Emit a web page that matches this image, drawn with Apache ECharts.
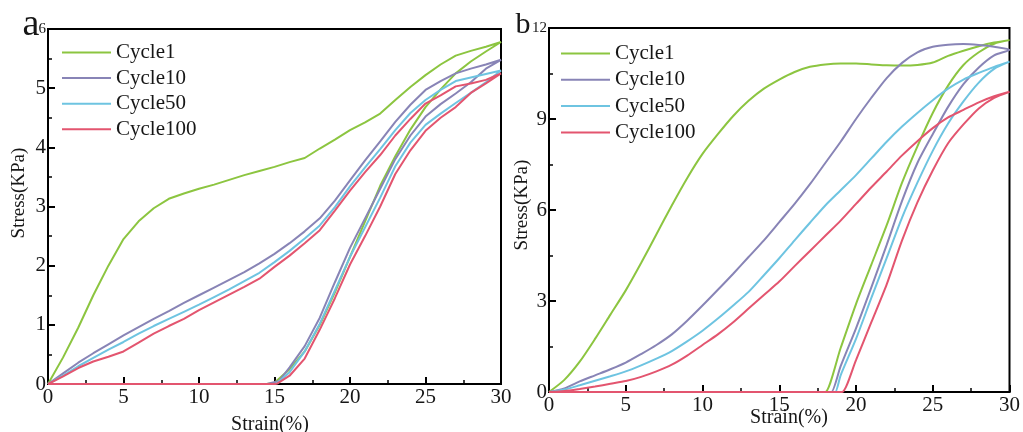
<!DOCTYPE html>
<html>
<head>
<meta charset="utf-8">
<script src="https://cdn.jsdelivr.net/npm/echarts@6/dist/echarts.min.js"></script>
<style>
  html, body { margin: 0; padding: 0; background: #ffffff; }
  #chart { width: 1023px; height: 432px; }
</style>
</head>
<body>
<div id="chart"></div>
<script>
// Stress–strain hysteresis loops, [strain %, stress KPa].
// Each loop: loading branch up to 30 %, unloading branch back to zero stress.

const cycleNames = ['Cycle1', 'Cycle10', 'Cycle50', 'Cycle100'];
const xTicks = [0, 5, 10, 15, 20, 25, 30];

// ---- panel a ----
const a1Load = [[0,0],[1,0.45],[2,0.95],[3,1.5],[4,2.0],[5,2.45],[6,2.75],[7,2.97],[8,3.13],[9,3.22],[10,3.3],[11,3.37],[12,3.45],[13,3.53],[14,3.6],[15,3.67],[16,3.75],[17,3.82],[18,3.98],[19,4.13],[20,4.29],[21,4.42],[22,4.57],[23,4.8],[24,5.02],[25,5.22],[26,5.4],[27,5.55],[28,5.63],[29,5.7],[30,5.78]];
const a1Unload = [[30,5.78],[29,5.62],[28,5.45],[27,5.25],[26,4.98],[25,4.68],[24,4.3],[23,3.85],[22,3.35],[21,2.75],[20,2.15],[19,1.55],[18,1.0],[17,0.55],[16,0.25],[15,0.02],[14.5,0],[0,0]];

const a10Load = [[0,0],[1,0.18],[2,0.36],[3,0.52],[4,0.67],[5,0.82],[6,0.96],[7,1.1],[8,1.23],[9,1.37],[10,1.5],[11,1.63],[12,1.76],[13,1.89],[14,2.04],[15,2.2],[16,2.38],[17,2.58],[18,2.8],[19,3.1],[20,3.44],[21,3.78],[22,4.1],[23,4.43],[24,4.72],[25,4.97],[26,5.12],[27,5.25],[28,5.33],[29,5.4],[30,5.48]];
const a10Unload = [[30,5.48],[29,5.33],[28,5.1],[27,4.91],[26,4.73],[25,4.52],[24,4.2],[23,3.8],[22,3.3],[21,2.8],[20,2.3],[19,1.72],[18,1.12],[17,0.64],[16,0.28],[15.3,0.05],[14.5,0],[0,0]];

const a50Load = [[0,0],[1,0.14],[2,0.3],[3,0.44],[4,0.58],[5,0.71],[6,0.85],[7,0.98],[8,1.1],[9,1.22],[10,1.34],[11,1.47],[12,1.6],[13,1.74],[14,1.88],[15,2.06],[16,2.25],[17,2.46],[18,2.68],[19,2.99],[20,3.34],[21,3.66],[22,3.97],[23,4.29],[24,4.58],[25,4.8],[26,4.97],[27,5.12],[28,5.18],[29,5.24],[30,5.3]];
const a50Unload = [[30,5.3],[29,5.1],[28,4.92],[27,4.75],[26,4.57],[25,4.38],[24,4.08],[23,3.68],[22,3.15],[21,2.65],[20,2.15],[19,1.58],[18,1.02],[17,0.55],[16,0.2],[15.2,0.02],[15,0],[0,0]];

const a100Load = [[0,0],[1,0.13],[2,0.27],[3,0.38],[4,0.46],[5,0.55],[6,0.7],[7,0.85],[8,0.98],[9,1.1],[10,1.25],[11,1.38],[12,1.51],[13,1.64],[14,1.78],[15,1.98],[16,2.17],[17,2.38],[18,2.6],[19,2.93],[20,3.27],[21,3.58],[22,3.87],[23,4.2],[24,4.48],[25,4.74],[26,4.88],[27,5.03],[28,5.08],[29,5.14],[30,5.25]];
const a100Unload = [[30,5.25],[29,5.08],[28,4.92],[27,4.68],[26,4.5],[25,4.28],[24,3.95],[23,3.55],[22,3.0],[21,2.5],[20,2.02],[19,1.45],[18,0.92],[17,0.43],[16,0.14],[15.2,0.01],[15,0],[0,0]];

const aStressTicks = [0, 1, 2, 3, 4, 5, 6];

// ---- panel b ----
const b1Load = [[0,0],[1,0.4],[2,1.0],[3,1.75],[4,2.55],[5,3.35],[6,4.25],[7,5.2],[8,6.15],[9,7.05],[10,7.85],[11,8.5],[12,9.1],[13,9.6],[14,10.0],[15,10.3],[16,10.55],[17,10.72],[18,10.8],[19,10.83],[20,10.83],[21,10.8],[22,10.77],[23,10.76],[24,10.78],[25,10.86],[26,11.08],[27,11.25],[28,11.4],[29,11.52],[30,11.6]];
const b1Unload = [[30,11.6],[29,11.48],[28,11.2],[27,10.78],[26,10.1],[25,9.2],[24,8.1],[23,6.9],[22,5.5],[21,4.2],[20,2.9],[19,1.45],[18,0],[17.9,0],[0,0]];

const b10Load = [[0,0],[1,0.12],[2,0.35],[3,0.55],[4,0.75],[5,0.97],[6,1.25],[7,1.55],[8,1.9],[9,2.35],[10,2.85],[11,3.37],[12,3.9],[13,4.45],[14,5.0],[15,5.6],[16,6.2],[17,6.85],[18,7.55],[19,8.25],[20,9.0],[21,9.7],[22,10.35],[23,10.85],[24,11.2],[25,11.38],[26,11.45],[27,11.47],[28,11.44],[29,11.38],[30,11.28]];
const b10Unload = [[30,11.28],[29,11.1],[28,10.7],[27,10.15],[26,9.4],[25,8.5],[24,7.55],[23,6.3],[22,4.85],[21,3.45],[20,2.1],[19,0.85],[18.4,0],[18.3,0],[0,0]];

const b50Load = [[0,0],[1,0.08],[2,0.22],[3,0.37],[4,0.52],[5,0.68],[6,0.88],[7,1.1],[8,1.35],[9,1.67],[10,2.02],[11,2.42],[12,2.85],[13,3.3],[14,3.85],[15,4.41],[16,5.0],[17,5.58],[18,6.15],[19,6.65],[20,7.15],[21,7.7],[22,8.25],[23,8.75],[24,9.2],[25,9.62],[26,10.0],[27,10.3],[28,10.52],[29,10.72],[30,10.89]];
const b50Unload = [[30,10.89],[29,10.65],[28,10.2],[27,9.58],[26,8.85],[25,7.95],[24,6.9],[23,5.75],[22,4.42],[21,3.1],[20,1.75],[19,0.55],[18.65,0],[18.55,0],[0,0]];

const b100Load = [[0,0],[1,0.03],[2,0.1],[3,0.18],[4,0.27],[5,0.36],[6,0.5],[7,0.68],[8,0.9],[9,1.2],[10,1.55],[11,1.9],[12,2.3],[13,2.75],[14,3.2],[15,3.64],[16,4.15],[17,4.65],[18,5.15],[19,5.65],[20,6.2],[21,6.75],[22,7.27],[23,7.8],[24,8.27],[25,8.7],[26,9.05],[27,9.3],[28,9.55],[29,9.75],[30,9.9]];
const b100Unload = [[30,9.9],[29,9.7],[28,9.35],[27,8.82],[26,8.2],[25,7.3],[24,6.25],[23,5.0],[22,3.55],[21,2.3],[20,1.05],[19.1,0],[19.0,0],[0,0]];

const bStressTicks = [0, 3, 6, 9, 12];

// ---- styling ----
const FONT = '"Liberation Serif", "Times New Roman", serif';
const INK = '#161616';
const COLORS = ['#8cc540', '#8884b6', '#6ec4e1', '#e3556f'];

const loop = (load, unload) => load.concat(unload.slice(1));

const aLoops = [loop(a1Load, a1Unload), loop(a10Load, a10Unload), loop(a50Load, a50Unload), loop(a100Load, a100Unload)];
const bLoops = [loop(b1Load, b1Unload), loop(b10Load, b10Unload), loop(b50Load, b50Unload), loop(b100Load, b100Unload)];

const FULL_STYLE = { border: true, legendText: true, labelColor: true, graphicFont: true, seriesColor: true };

function buildOption(f) {
  const tick = { show: true, inside: true, length: 7, lineStyle: { color: '#000', width: 2 } };
  const minor = { show: true, splitNumber: 2, length: 4, lineStyle: { color: '#000', width: 1.5 } };
  const line = { show: true, onZero: false, lineStyle: { color: '#000', width: 2 } };
  const labelBase = f.labelColor ? { color: INK } : {};

  const xa = g => ({
    type: 'value', gridIndex: g,
    min: xTicks[0], max: xTicks[xTicks.length - 1], interval: xTicks[1] - xTicks[0],
    axisLine: line, axisTick: tick, minorTick: minor, splitLine: { show: false },
    axisLabel: Object.assign({ fontFamily: FONT, fontSize: 21, margin: 3 }, labelBase)
  });
  const ya = (g, ticks) => {
    const max = ticks[ticks.length - 1];
    return {
      type: 'value', gridIndex: g,
      min: ticks[0], max, interval: ticks[1] - ticks[0],
      axisLine: line, axisTick: tick, minorTick: minor, splitLine: { show: false },
      axisLabel: Object.assign({
        fontFamily: FONT, fontSize: 21, margin: 2,
        // the top value is printed smaller, tucked under the panel letter
        formatter: v => (v === max ? '{s|' + v + '}' : String(v)),
        rich: { s: Object.assign({ fontSize: 15, fontFamily: FONT }, labelBase) }
      }, labelBase)
    };
  };
  // plain top / right edges closing each plot frame
  const edge = (g, position, max) => ({
    type: 'value', gridIndex: g, position, min: 0, max,
    axisLine: line, axisTick: { show: false }, minorTick: { show: false },
    axisLabel: { show: false }, splitLine: { show: false }
  });
  const lg = (left, top, gap) => {
    const l = {
      orient: 'vertical', left, top, padding: 0,
      icon: 'rect', itemWidth: 49, itemHeight: 2, itemGap: gap,
      data: cycleNames
    };
    if (f.legendText) l.textStyle = { color: INK, fontFamily: FONT, fontSize: 21, lineHeight: 21 };
    else l.textStyle = { fontFamily: FONT, fontSize: 21 };
    return l;
  };
  const txt = (text, x, y, size, rotation) => {
    const style = { text, fontSize: size, align: 'center', verticalAlign: 'middle' };
    if (f.graphicFont) { style.fontFamily = FONT; style.fill = INK; }
    const el = { type: 'text', x, y, style };
    if (rotation) el.rotation = rotation;
    return el;
  };

  const grid = [
    { left: 48, top: 29, width: 453, height: 355 },
    { left: 549, top: 28, width: 463, height: 364 }
  ];
  const xAxis = [xa(0), xa(1)];
  const yAxis = [ya(0, aStressTicks), ya(1, bStressTicks)];
  if (f.border) {
    grid.forEach(g => Object.assign(g, { show: true, borderColor: '#000', borderWidth: 2, backgroundColor: 'transparent' }));
  } else {
    xAxis.push(edge(0, 'top', 30), edge(1, 'top', 30));
    yAxis.push(edge(0, 'right', 6), edge(1, 'right', 12));
  }

  const opt = {
    animation: false,
    backgroundColor: '#fff',
    grid, xAxis, yAxis,
    legend: [lg(62, 42, 4.6), lg(561, 43, 5.3)],
    series: [],
    graphic: [
      txt('a', 31, 25, 38),
      txt('b', 523, 25, 30),
      txt('Strain(%)', 270, 425, 20),
      txt('Strain(%)', 789, 418, 20),
      txt('Stress(KPa)', 19, 193, 19, Math.PI / 2),
      txt('Stress(KPa)', 522, 205, 19, Math.PI / 2)
    ]
  };
  const addSeries = (loops, axisIndex, smooth) => loops.forEach((d, i) => {
    const s = {
      name: cycleNames[i], type: 'line', xAxisIndex: axisIndex, yAxisIndex: axisIndex,
      data: d, symbol: 'none', smooth,
      lineStyle: { color: COLORS[i], width: 2 }, itemStyle: { color: COLORS[i] }
    };
    if (f.seriesColor) s.color = COLORS[i];
    opt.series.push(s);
  });
  addSeries(aLoops, 0, false);
  addSeries(bLoops, 1, 0.25);
  return opt;
}

const chart = echarts.init(document.getElementById('chart'), null, { renderer: 'canvas' });

// Looks at the canvas just above the 5 % tick of panel a and reports whether a dark tick mark is there.
function tickDrawn() {
  chart.getZr().refreshImmediately();
  const canvas = chart.getDom().querySelector('canvas');
  if (!canvas) return true;
  const p = chart.convertToPixel({ seriesIndex: 0 }, [5, 0]);
  const d = canvas.getContext('2d').getImageData(Math.round(p[0]) - 2, Math.round(p[1]) - 5, 5, 1).data;
  for (let i = 0; i < d.length; i += 4) {
    if (d[i] + d[i + 1] + d[i + 2] < 300) return true;
  }
  return false;
}

// Full styling first; if the ticks go missing, retry with one styling group simplified at a time.
const attempts = [
  {},
  { border: false },
  { legendText: false },
  { labelColor: false },
  { graphicFont: false },
  { seriesColor: false },
  { border: false, legendText: false, labelColor: false, graphicFont: false, seriesColor: false }
];
let done = false;
for (const a of attempts) {
  chart.setOption(buildOption(Object.assign({}, FULL_STYLE, a)), true);
  if (tickDrawn()) { done = true; break; }
}
if (!done) chart.setOption(buildOption(FULL_STYLE), true);
</script>
</body>
</html>
